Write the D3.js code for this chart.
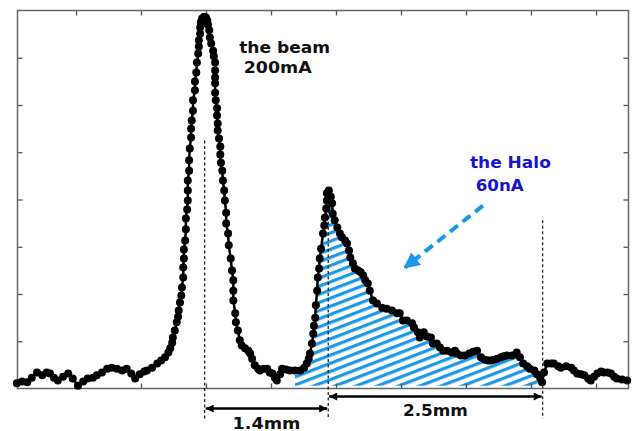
<!DOCTYPE html>
<html><head><meta charset="utf-8">
<script src="https://cdn.jsdelivr.net/npm/d3@7"></script>
<style>html,body{margin:0;padding:0;background:#fff;} svg{display:block}</style>
</head><body><svg id="c" width="634" height="431"></svg>
<script>
// ---- data (position in tick units, intensity in arbitrary units) ----
const positions = [0.09,0.17,0.25,0.32,0.40,0.48,0.55,0.60,0.66,0.72,0.80,0.88,0.95,1.03,1.11,1.18,1.26,1.32,1.40,1.48,
1.55,1.63,1.71,1.78,1.85,1.91,1.98,2.05,2.09,2.17,2.25,2.31,2.37,2.42,2.45,2.48,2.49,2.52,2.55,2.57,
2.58,2.60,2.62,2.63,2.65,2.65,2.66,2.66,2.68,2.69,2.69,2.71,2.72,2.72,2.72,2.74,2.74,2.75,2.77,2.77,
2.78,2.80,2.80,2.83,2.83,2.85,2.86,2.88,2.89,2.89,2.91,2.91,2.92,2.94,2.97,3.00,3.02,3.03,3.05,3.06,
3.08,3.11,3.12,3.14,3.14,3.14,3.14,3.14,3.15,3.17,3.17,3.18,3.18,3.20,3.22,3.22,3.23,3.25,3.26,3.28,
3.29,3.31,3.31,3.34,3.35,3.38,3.40,3.42,3.42,3.42,3.45,3.46,3.49,3.52,3.55,3.60,3.65,3.68,3.71,3.75,
3.80,3.83,3.89,3.94,3.98,4.02,4.06,4.09,4.14,4.17,4.23,4.29,4.37,4.45,4.51,4.55,4.58,4.60,4.63,4.65,
4.66,4.68,4.69,4.71,4.72,4.74,4.75,4.77,4.80,4.82,4.83,4.85,4.86,4.86,4.89,4.92,4.94,4.95,4.98,5.02,
5.06,5.09,5.14,5.17,5.20,5.22,5.26,5.29,5.34,5.38,5.42,5.45,5.49,5.52,5.57,5.63,5.71,5.78,5.86,5.94,
5.98,6.03,6.09,6.17,6.20,6.26,6.29,6.35,6.40,6.46,6.49,6.55,6.60,6.65,6.71,6.78,6.83,6.86,6.92,6.98,
7.05,7.11,7.17,7.23,7.29,7.34,7.38,7.43,7.48,7.54,7.58,7.63,7.71,7.78,7.83,7.88,7.94,7.98,8.05,8.09,
8.14,8.17,8.20,8.25,8.31,8.35,8.42,8.46,8.54,8.62,8.66,8.71,8.77,8.82,8.88,8.92,8.97,9.02,9.08,9.12,
9.18,9.23,9.28,9.32,9.40,9.48];
const intensity = [0.11,0.15,0.13,0.23,0.34,0.28,0.34,0.32,0.23,0.17,0.25,0.32,0.21,0.06,0.15,0.21,0.23,0.28,0.34,0.42,
0.44,0.42,0.38,0.42,0.32,0.21,0.30,0.36,0.38,0.44,0.53,0.59,0.66,0.76,0.85,0.97,1.08,1.23,1.40,1.52,
1.65,1.82,1.97,2.14,2.35,2.56,2.75,2.94,3.13,3.37,3.60,3.79,3.98,4.19,4.40,4.61,4.83,5.08,5.31,5.50,
5.67,5.88,6.10,6.31,6.50,6.69,6.90,7.09,7.24,7.37,7.51,7.64,7.75,7.83,7.87,7.85,7.79,7.70,7.58,7.43,
7.30,7.15,7.03,6.90,6.73,6.58,6.46,6.26,6.10,5.93,5.78,5.61,5.46,5.29,5.12,4.95,4.78,4.61,4.40,4.19,
3.98,3.72,3.49,3.28,3.03,2.75,2.50,2.29,2.07,1.86,1.59,1.40,1.23,1.02,0.91,0.85,0.80,0.74,0.63,0.49,
0.42,0.38,0.42,0.42,0.34,0.32,0.23,0.17,0.30,0.42,0.40,0.38,0.38,0.38,0.44,0.53,0.63,0.74,0.95,1.16,
1.33,1.50,1.76,2.07,2.35,2.54,2.75,2.96,3.28,3.45,3.62,3.81,3.98,4.13,4.19,4.06,3.92,3.70,3.56,3.41,
3.28,3.20,3.13,3.07,2.92,2.77,2.65,2.54,2.50,2.46,2.39,2.29,2.22,2.07,1.86,1.80,1.71,1.69,1.65,1.59,
1.59,1.44,1.44,1.38,1.29,1.19,1.08,1.19,1.10,1.08,0.95,0.95,0.87,0.80,0.80,0.76,0.80,0.74,0.70,0.70,
0.74,0.78,0.80,0.66,0.61,0.59,0.59,0.61,0.63,0.66,0.68,0.70,0.70,0.76,0.66,0.53,0.47,0.42,0.38,0.30,
0.23,0.13,0.34,0.53,0.53,0.53,0.47,0.44,0.47,0.44,0.38,0.32,0.30,0.28,0.21,0.17,0.25,0.32,0.36,0.34,
0.34,0.32,0.25,0.21,0.19,0.17];
const xTicks = [1,2,3,4,5,6,7,8,9];
const yTicks = [1,2,3,4,5,6,7];
const beamLabel = ["the beam", "200mA"];
const haloLabel = ["the Halo", "60nA"];
const guideX = [2.98, 4.88, 8.18];          // dashed reference positions
const guideTop = [5.25, 4.0, 3.56];
const spans = [{from: 2.98, to: 4.88, label: "1.4mm"}, {from: 4.88, to: 8.18, label: "2.5mm"}];
const haloRange = [4.37, 8.17];
const pointer = {from: [7.26, 3.87], to: [6.06, 2.56]};

const points = positions.map((p, i) => [p, intensity[i]]);

const svg = d3.select("#c");
const x = d3.scaleLinear().domain([0.1, 9.5]).range([17.5, 628.5]);
const y = d3.scaleLinear().domain([0, 8]).range([388.5, 10.5]);

const defs = svg.append("defs");
const pat = defs.append("pattern").attr("id", "hatch").attr("patternUnits", "userSpaceOnUse")
  .attr("width", 20).attr("height", 7.6).attr("patternTransform", "rotate(-21)");
pat.append("rect").attr("x", 0).attr("y", 0).attr("width", 20).attr("height", 3.2).attr("fill", "#1b98e6");

defs.append("marker").attr("id", "ah").attr("viewBox", "0 0 10 10").attr("refX", 10).attr("refY", 5)
  .attr("markerUnits", "userSpaceOnUse").attr("markerWidth", 9).attr("markerHeight", 8)
  .attr("orient", "auto-start-reverse")
  .append("path").attr("d", "M0,0L10,5L0,10z").attr("fill", "#000");
defs.append("marker").attr("id", "bh").attr("viewBox", "0 0 10 10").attr("refX", 9).attr("refY", 5)
  .attr("markerUnits", "userSpaceOnUse").attr("markerWidth", 16).attr("markerHeight", 16)
  .attr("orient", "auto")
  .append("path").attr("d", "M0,0L10,5L0,10z").attr("fill", "#1b98e6");

// hatch area
const haloPts = points.filter(d => d[0] >= haloRange[0] && d[0] <= haloRange[1]);
const area = d3.area().x(d => x(d[0])).y0(y(0.06)).y1(d => y(d[1]));
svg.append("path").datum(haloPts).attr("d", area).attr("fill", "url(#hatch)");

// frame + ticks
const tickCol = "#555";
function styleAxis(g){ g.select(".domain").remove(); g.attr("color", tickCol); g.selectAll("line").attr("stroke-width", 1.3); }
svg.append("g").attr("transform", `translate(0,${y(8)})`)
  .call(d3.axisTop(x).tickValues(xTicks).tickSizeInner(-5).tickSizeOuter(0).tickFormat("")).call(styleAxis);
svg.append("g").attr("transform", `translate(0,${y(0)})`)
  .call(d3.axisBottom(x).tickValues(xTicks).tickSizeInner(-5).tickSizeOuter(0).tickFormat("")).call(styleAxis);
svg.append("g").attr("transform", `translate(${x(0.1)},0)`)
  .call(d3.axisLeft(y).tickValues(yTicks).tickSizeInner(-5).tickSizeOuter(0).tickFormat("")).call(styleAxis);
svg.append("g").attr("transform", `translate(${x(9.5)},0)`)
  .call(d3.axisRight(y).tickValues(yTicks).tickSizeInner(-5).tickSizeOuter(0).tickFormat("")).call(styleAxis);
svg.append("rect").attr("x", x(0.1)).attr("y", y(8)).attr("width", x(9.5) - x(0.1)).attr("height", y(0) - y(8))
  .attr("fill", "none").attr("stroke", "#666").attr("stroke-width", 1.5);

// dashed guides
svg.append("g").selectAll("line").data(guideX).join("line")
  .attr("x1", d => x(d)).attr("x2", d => x(d))
  .attr("y1", (d, i) => y(guideTop[i])).attr("y2", y(0) + 30)
  .attr("stroke", "#000").attr("stroke-width", 1.1).attr("stroke-dasharray", "3,2.5");

// curve
svg.append("path").datum(points).attr("d", d3.line().x(d => x(d[0])).y(d => y(d[1])))
  .attr("fill", "none").attr("stroke", "#000").attr("stroke-width", 2.5);
svg.append("g").selectAll("circle").data(points).join("circle")
  .attr("cx", d => x(d[0])).attr("cy", d => y(d[1])).attr("r", 4).attr("fill", "#000");

// dimension arrows
const spanY = [y(0) + 20, y(0) + 8];
const labY = [y(0) + 40, y(0) + 27];
const labW = [68, 65];
spans.forEach((s, i) => {
  svg.append("line").attr("x1", x(s.from) + 1).attr("x2", x(s.to) - 1).attr("y1", spanY[i]).attr("y2", spanY[i])
    .attr("stroke", "#000").attr("stroke-width", 2.5)
    .attr("marker-start", "url(#ah)").attr("marker-end", "url(#ah)");
  svg.append("text").attr("x", (x(s.from) + x(s.to)) / 2).attr("y", labY[i]).attr("text-anchor", "middle")
    .attr("font-family", "DejaVu Sans, sans-serif").attr("font-weight", "bold").attr("font-size", 15.5)
    .attr("textLength", labW[i]).attr("lengthAdjust", "spacingAndGlyphs")
    .attr("fill", "#111").text(s.label);
});

// blue pointer
svg.append("line").attr("x1", x(pointer.from[0])).attr("y1", y(pointer.from[1]))
  .attr("x2", x(pointer.to[0])).attr("y2", y(pointer.to[1]))
  .attr("stroke", "#1b98e6").attr("stroke-width", 4).attr("stroke-dasharray", "10,6")
  .attr("marker-end", "url(#bh)");

// labels
function label(lines, xs, ys, ws, col){
  lines.forEach((t, i) => svg.append("text").attr("x", x(xs[i])).attr("y", y(ys[i]))
    .attr("font-family", "DejaVu Sans, sans-serif").attr("font-weight", "bold").attr("font-size", 16.5)
    .attr("textLength", ws[i]).attr("lengthAdjust", "spacingAndGlyphs")
    .attr("fill", col).text(t));
}
label(beamLabel, [3.51, 3.58], [7.11, 6.67], [91, 68], "#111");
label(haloLabel, [7.06, 7.15], [4.66, 4.19], [81, 48], "#1515cf");
</script></body></html>
